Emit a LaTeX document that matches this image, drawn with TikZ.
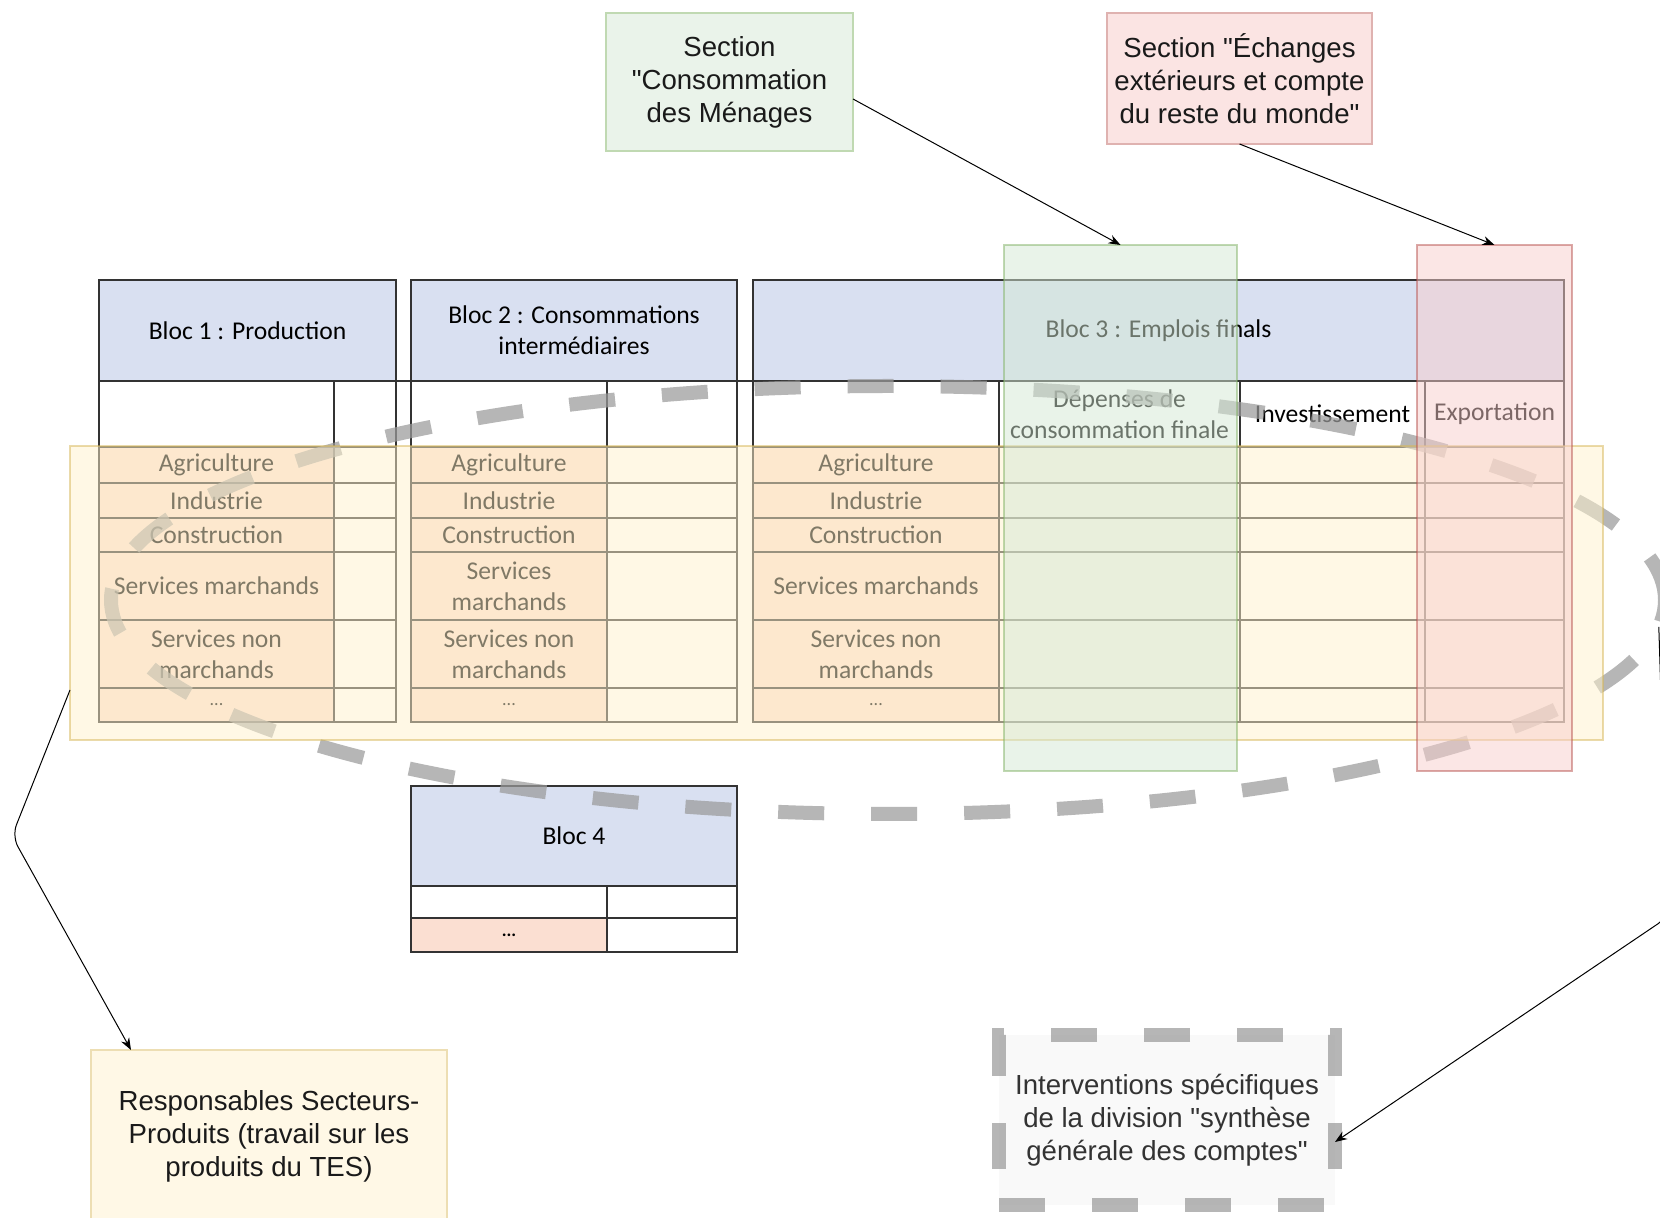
\documentclass[tikz,border=0pt]{standalone}
\usepackage{fontspec}
\setmainfont{Liberation Sans}[Ligatures=TeXOff]
\newfontfamily\calib{Carlito}
\usetikzlibrary{shapes.geometric,arrows.meta,calc}

\definecolor{hdrblue}{HTML}{D9E0F1}
\definecolor{salmon}{HTML}{FBDFD2}
\definecolor{tline}{HTML}{333333}
\definecolor{gfill}{HTML}{D5E8D4}
\definecolor{gline}{HTML}{82B366}
\definecolor{rfill}{HTML}{F8CECC}
\definecolor{rline}{HTML}{B85450}
\definecolor{yfill}{HTML}{FFF2CC}
\definecolor{yline}{HTML}{D6B656}
\definecolor{dashgray}{HTML}{9A9A9A}
\definecolor{txt}{HTML}{1A1A1A}
\definecolor{ifill}{HTML}{F9F9F9}

\newcommand{\tcell}[7]{%
  \path[cellframe, fill=#6] (#2,#3) rectangle (#4,#5);
  \node[celltext] (#1) at ({(#2+#4)/2},{(#3+#5)/2}) {#7};}
\newcommand{\rowdots}{{\fontsize{9}{10}\selectfont ...}}

\begin{document}
\begin{tikzpicture}[x=0.5pt,y=-0.5pt,
  celltext/.style={align=center, inner sep=0pt, font=\calib\fontsize{12.8}{15.4}\selectfont, text=black},
  cellframe/.style={draw=tline, line width=0.85pt},
  overlaybox/.style={rectangle, inner sep=0pt, outer sep=0pt, line width=0.75pt, opacity=0.5},
  secbox/.style={rectangle, inner sep=0pt, outer sep=0pt, line width=0.75pt, align=center,
                 font=\fontsize{13.8}{16.5}\selectfont, text=txt},
  bigdash/.style={draw=dashgray, draw opacity=0.72, line width=7pt, dash pattern=on 23pt off 23.5pt},
  arr/.style={draw=black, line width=0.5pt, -{Stealth[length=6pt,width=4.5pt]}},
]
\useasboundingbox (0,0) rectangle (1660,1218);
\fill[white] (0,0) rectangle (1660,1218);

% ---------------- Bloc 1
\tcell{b1h}{99}{280}{396}{381}{hdrblue}{Bloc 1 : Production}
\tcell{b1s1}{99}{381}{334}{447}{white}{}
\tcell{b1s2}{334}{381}{396}{447}{white}{}
\foreach \ya/\yb/\t [count=\i] in {447/483/{Agriculture}, 483/518/{Industrie}, 518/552/{Construction},
   552/620/{Services marchands}, 620/688/{Services non\\marchands}, 688/722/{\rowdots}} {
  \tcell{b1r\i}{99}{\ya}{334}{\yb}{salmon}{\t}
  \tcell{b1v\i}{334}{\ya}{396}{\yb}{white}{}
}

% ---------------- Bloc 2
\tcell{b2h}{411}{280}{737}{381}{hdrblue}{Bloc 2 : Consommations\\intermédiaires}
\tcell{b2s1}{411}{381}{607}{447}{white}{}
\tcell{b2s2}{607}{381}{737}{447}{white}{}
\foreach \ya/\yb/\t [count=\i] in {447/483/{Agriculture}, 483/518/{Industrie}, 518/552/{Construction},
   552/620/{Services\\marchands}, 620/688/{Services non\\marchands}, 688/722/{\rowdots}} {
  \tcell{b2r\i}{411}{\ya}{607}{\yb}{salmon}{\t}
  \tcell{b2v\i}{607}{\ya}{737}{\yb}{white}{}
}

% ---------------- Bloc 3
\tcell{b3h}{753}{280}{1564}{381}{hdrblue}{Bloc 3 : Emplois finals}
\tcell{b3s1}{753}{381}{999}{447}{white}{}
\tcell{b3s2}{999}{381}{1240}{447}{white}{Dépenses de\\consommation finale}
\tcell{b3s3}{1240}{381}{1425}{447}{white}{Investissement}
\tcell{b3s4}{1425}{381}{1564}{447}{white}{Exportation}
\foreach \ya/\yb/\t [count=\i] in {447/483/{Agriculture}, 483/518/{Industrie}, 518/552/{Construction},
   552/620/{Services marchands}, 620/688/{Services non\\marchands}, 688/722/{\rowdots}} {
  \tcell{b3r\i}{753}{\ya}{999}{\yb}{salmon}{\t}
  \tcell{b3a\i}{999}{\ya}{1240}{\yb}{white}{}
  \tcell{b3b\i}{1240}{\ya}{1425}{\yb}{white}{}
  \tcell{b3c\i}{1425}{\ya}{1564}{\yb}{white}{}
}
\draw[tline, line width=0.85pt] (99,381) -- (1564,381);

% ---------------- Bloc 4
\tcell{b4h}{411}{786}{737}{886}{hdrblue}{Bloc 4}
\tcell{b4a1}{411}{886}{607}{918}{white}{}
\tcell{b4b1}{607}{886}{737}{918}{white}{}
\tcell{b4a2}{411}{918}{607}{952}{salmon}{{\bfseries\fontsize{9}{10}\selectfont ...}}
\tcell{b4b2}{607}{918}{737}{952}{white}{}

% ---------------- dashed ellipse
\node[ellipse, bigdash, minimum width=777pt, minimum height=214pt, inner sep=0pt, outer sep=0pt] (ell) at (888,600) {};

% ---------------- overlays
\node[overlaybox, fill=yfill, draw=yline, minimum width=766.5pt, minimum height=147pt] (yov) at (836.5,593) {};
\node[overlaybox, fill=gfill, draw=gline, minimum width=116.5pt, minimum height=263pt] (gov) at (1120.5,508) {};
\node[overlaybox, fill=rfill, draw=rline, minimum width=77.5pt, minimum height=263pt] (rov) at (1494.5,508) {};

% ---------------- boxes
\node[secbox, fill=gfill!50!white, draw=gline!50!white, minimum width=123.5pt, minimum height=69pt]
  (secG) at (729.5,82) {Section\\"Consommation\\des Ménages};
\node[secbox, fill=rfill!55!white, draw=rline!45!white, minimum width=132.5pt, minimum height=65.5pt]
  (secR) at (1239.5,78.5) {Section "Échanges\\extérieurs et compte\\du reste du monde"};
\node[secbox, fill=yfill!50!white, draw=yline!45!white, minimum width=178pt, minimum height=86pt]
  (resp) at (269,1136) {Responsables Secteurs-\\Produits (travail sur les\\produits du TES)};
\node[secbox, fill=ifill, bigdash, minimum width=168pt, minimum height=85pt, text=black!80]
  (interv) at (1167,1120) {Interventions spécifiques\\de la division "synthèse\\générale des comptes"};

% ---------------- connectors
\draw[arr] ([yshift=-8.5pt]secG.east) -- (gov.north);
\draw[arr] (secR.south) -- (rov.north);
\coordinate (k1) at (12,836);
\draw[arr, rounded corners=6pt] ([yshift=-48.5pt]yov.west) -- (k1) -- ([xshift=20pt]resp.north west);
\coordinate (k2) at (1668,917);
\draw[arr, rounded corners=6pt] (ell.-2.4) -- (k2) -- ([yshift=-11pt]interv.east);
\end{tikzpicture}
\end{document}
